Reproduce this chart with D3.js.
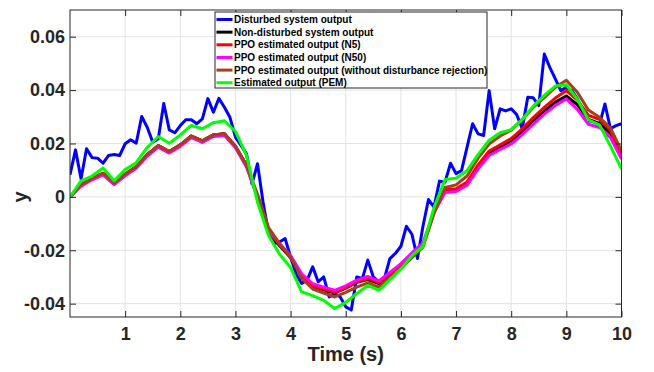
<!DOCTYPE html>
<html>
<head>
<meta charset="utf-8">
<script src="https://cdn.jsdelivr.net/npm/d3@7"></script>
<style>
  html, body { margin: 0; padding: 0; background: #fff; }
  svg { display: block; font-family: "Liberation Sans", Arial, Helvetica, sans-serif; }
</style>
</head>
<body>
<div id="chart"></div>
<script>
// time grid of the disturbed output (0.1 s)
const tBlue = [0,0.1,0.2,0.3,0.4,0.5,0.6,0.7,0.8,0.9,1,1.1,1.2,1.3,1.4,1.5,1.6,1.7,1.8,1.9,
  2,2.1,2.2,2.3,2.4,2.5,2.6,2.7,2.8,2.9,3,3.1,3.2,3.3,3.4,3.5,3.6,3.7,3.8,3.9,
  4,4.1,4.2,4.3,4.4,4.5,4.6,4.7,4.8,4.9,5,5.1,5.2,5.3,5.4,5.5,5.6,5.7,5.8,5.9,
  6,6.1,6.2,6.3,6.4,6.5,6.6,6.7,6.8,6.9,7,7.1,7.2,7.3,7.4,7.5,7.6,7.7,7.8,7.9,
  8,8.1,8.2,8.3,8.4,8.5,8.6,8.7,8.8,8.9,9,9.1,9.2,9.3,9.4,9.5,9.6,9.7,9.8,9.9,10];

const disturbed = [0.0083,0.0176,0.0068,0.018,0.0147,0.0145,0.0126,0.0155,0.0159,0.0155,
  0.0199,0.0214,0.0201,0.0301,0.0261,0.0205,0.0217,0.035,0.0251,0.024,
  0.0267,0.0289,0.0289,0.0274,0.0292,0.0368,0.0317,0.0369,0.0336,0.0298,
  0.0224,0.0193,0.0161,0.0049,0.0124,-0.0019,-0.0135,-0.0175,-0.0169,-0.0156,
  -0.0225,-0.029,-0.0324,-0.0312,-0.0262,-0.0318,-0.03,-0.0375,-0.0362,-0.0375,
  -0.0412,-0.0424,-0.03,-0.0306,-0.0237,-0.03,-0.0318,-0.0306,-0.0231,-0.0212,
  -0.0185,-0.011,-0.014,-0.0231,-0.011,-0.001,-0.0038,0.0059,0.0055,0.0126,
  0.0087,0.0099,0.0186,0.0274,0.0236,0.023,0.0398,0.0255,0.033,0.0322,
  0.033,0.0308,0.0255,0.0373,0.0371,0.0342,0.0535,0.0485,0.0442,0.0398,
  0.041,0.0398,0.0367,0.0323,0.0286,0.028,0.027,0.0348,0.0255,0.0267,0.0274];

// time grid of the estimated outputs (0.2 s)
const tSmooth = [0,0.2,0.4,0.6,0.8,1,1.2,1.4,1.6,1.8,2,2.2,2.4,2.6,2.8,3,3.2,3.4,3.6,3.8,
  4,4.2,4.4,4.6,4.8,5,5.2,5.4,5.6,5.8,6,6.2,6.4,6.6,6.8,7,7.2,7.4,7.6,7.8,
  8,8.2,8.4,8.6,8.8,9,9.2,9.4,9.6,9.8,10];

const nonDisturbed = [0,0.0045,0.007,0.0088,0.0052,0.0085,0.0113,0.0158,0.0192,0.017,
  0.0195,0.0228,0.021,0.0232,0.0236,0.019,0.0118,0,-0.013,-0.0183,
  -0.0228,-0.03,-0.0335,-0.0348,-0.036,-0.0342,-0.032,-0.031,-0.0325,-0.0292,
  -0.026,-0.0222,-0.0182,-0.0058,0.0022,0.0025,0.005,0.0115,0.0165,0.0188,
  0.021,0.0245,0.0285,0.0322,0.0355,0.0378,0.0345,0.029,0.0275,0.0238,0.0162];

const ppoN5 = [0,0.0045,0.007,0.0088,0.0052,0.0085,0.0113,0.0158,0.0192,0.017,
  0.0195,0.0228,0.021,0.0232,0.0236,0.019,0.0118,0.0003,-0.0128,-0.018,
  -0.0225,-0.0298,-0.0333,-0.0345,-0.0358,-0.034,-0.0318,-0.0305,-0.032,-0.0288,
  -0.0257,-0.0218,-0.018,-0.0055,0.0028,0.003,0.0056,0.012,0.0172,0.0195,
  0.0218,0.0255,0.0297,0.0335,0.037,0.0398,0.0362,0.0305,0.029,0.025,0.0155];

const ppoN50 = [0,0.004,0.0064,0.0082,0.0046,0.0079,0.0107,0.0152,0.0186,0.0164,
  0.0189,0.0222,0.0204,0.0226,0.023,0.0184,0.0112,-0.0002,-0.0125,-0.0175,
  -0.022,-0.0288,-0.0325,-0.0338,-0.035,-0.0333,-0.0312,-0.0298,-0.0315,-0.0283,
  -0.025,-0.021,-0.0172,-0.0058,0.0016,0.002,0.0044,0.0105,0.0155,0.0178,
  0.0198,0.0233,0.0272,0.031,0.0342,0.0367,0.0328,0.0272,0.026,0.0222,0.0142];

const ppoNoRejection = [0,0.0045,0.007,0.0088,0.0052,0.0085,0.0113,0.0158,0.0192,0.017,
  0.0195,0.0228,0.021,0.0232,0.0236,0.019,0.0118,0.001,-0.0115,-0.0175,
  -0.0225,-0.0305,-0.0345,-0.036,-0.0375,-0.0358,-0.0338,-0.0322,-0.0338,-0.0302,
  -0.0268,-0.0228,-0.0188,-0.0062,0.0035,0.0045,0.0078,0.0145,0.0198,0.0228,
  0.025,0.029,0.0335,0.0372,0.041,0.0437,0.0392,0.0325,0.0298,0.0258,0.0172];

const pem = [0,0.006,0.0078,0.0108,0.006,0.0102,0.0128,0.0185,0.0226,0.0201,
  0.0232,0.0268,0.0255,0.0278,0.0285,0.0245,0.0155,-0.002,-0.0145,-0.0215,
  -0.0265,-0.0356,-0.037,-0.0388,-0.0418,-0.0395,-0.0362,-0.0332,-0.035,-0.031,
  -0.027,-0.022,-0.0185,-0.004,0.0065,0.007,0.0098,0.0158,0.0212,0.024,
  0.0252,0.029,0.034,0.038,0.0415,0.042,0.0365,0.0288,0.027,0.019,0.0105];

const seriesNames = [
  'Disturbed system output',
  'Non-disturbed system output',
  'PPO estimated output (N5)',
  'PPO estimated output (N50)',
  'PPO estimated output (without disturbance rejection)',
  'Estimated output (PEM)'
];
const seriesColors = ['#0000ff', '#000000', '#ff0000', '#ff00ff', '#a53f1c', '#00ff00'];

const xTicks = [1, 2, 3, 4, 5, 6, 7, 8, 9, 10];
const yTicks = [-0.04, -0.02, 0, 0.02, 0.04, 0.06];
const yTickLabels = ['-0.04', '-0.02', '0', '0.02', '0.04', '0.06'];

const width = 654, height = 372;
const margin = { left: 70, right: 32.5, top: 10, bottom: 55 };
const innerW = width - margin.left - margin.right;
const innerH = height - margin.top - margin.bottom;

const svg = d3.select('#chart').append('svg')
  .attr('width', width)
  .attr('height', height);

svg.append('rect').attr('width', width).attr('height', height).attr('fill', '#fff');

const chart = svg.append('g').attr('transform', `translate(${margin.left}, ${margin.top})`);

const x = d3.scaleLinear().domain([0, 10]).range([0, innerW]);
const y = d3.scaleLinear().domain([-0.045, 0.07]).range([innerH, 0]);

// grid
chart.append('g').selectAll('line').data(xTicks).join('line')
  .attr('x1', d => x(d)).attr('x2', d => x(d))
  .attr('y1', 0).attr('y2', innerH)
  .attr('stroke', '#e3e3e3').attr('stroke-width', 1);
chart.append('g').selectAll('line').data(yTicks).join('line')
  .attr('x1', 0).attr('x2', innerW)
  .attr('y1', d => y(d)).attr('y2', d => y(d))
  .attr('stroke', '#e3e3e3').attr('stroke-width', 1);

// lines
chart.append('clipPath').attr('id', 'clip')
  .append('rect').attr('width', innerW).attr('height', innerH);

const allSeries = [
  { t: tBlue, v: disturbed },
  { t: tSmooth, v: nonDisturbed },
  { t: tSmooth, v: ppoN5 },
  { t: tSmooth, v: ppoN50 },
  { t: tSmooth, v: ppoNoRejection },
  { t: tSmooth, v: pem }
];

const line = d3.line()
  .x(d => x(d[0]))
  .y(d => y(d[1]));

const plot = chart.append('g').attr('clip-path', 'url(#clip)');
allSeries.forEach((s, i) => {
  plot.append('path')
    .datum(s.t.map((t, k) => [t, s.v[k]]))
    .attr('fill', 'none')
    .attr('stroke', seriesColors[i])
    .attr('stroke-width', 3)
    .attr('stroke-linejoin', 'round')
    .attr('d', line);
});

// axes
const axisColor = '#262626';
const xAxis = chart.append('g').attr('transform', `translate(0, ${innerH})`)
  .call(d3.axisBottom(x).tickValues(xTicks).tickSizeInner(-6).tickSizeOuter(0).tickPadding(10).tickFormat(d3.format('d')));
const yAxis = chart.append('g')
  .call(d3.axisLeft(y).tickValues(yTicks).tickSizeInner(-6).tickSizeOuter(0).tickPadding(5)
    .tickFormat((d, i) => yTickLabels[i]));
const xTop = chart.append('g')
  .call(d3.axisTop(x).tickValues(xTicks).tickSizeInner(-6).tickSizeOuter(0).tickFormat(''));
const yRight = chart.append('g').attr('transform', `translate(${innerW}, 0)`)
  .call(d3.axisRight(y).tickValues(yTicks).tickSizeInner(-6).tickSizeOuter(0).tickFormat(''));

[xAxis, yAxis, xTop, yRight].forEach(a => {
  a.select('.domain').remove();
  a.selectAll('.tick line').attr('stroke', axisColor);
  a.selectAll('.tick text')
    .attr('fill', axisColor)
    .style('font-size', '18px')
    .style('font-weight', 'bold')
    .style('font-family', '"Liberation Sans", Arial, sans-serif');
});

chart.append('rect')
  .attr('width', innerW).attr('height', innerH)
  .attr('fill', 'none').attr('stroke', axisColor).attr('stroke-width', 1);

// axis labels
svg.append('text')
  .attr('x', margin.left + innerW / 2)
  .attr('y', 361)
  .attr('text-anchor', 'middle')
  .attr('fill', axisColor)
  .style('font-size', '20px').style('font-weight', 'bold')
  .text('Time (s)');

svg.append('text')
  .attr('transform', `translate(27, ${margin.top + y(0)}) rotate(-90)`)
  .attr('text-anchor', 'middle')
  .attr('fill', axisColor)
  .style('font-size', '20px').style('font-weight', 'bold')
  .text('y');

// legend
const legend = svg.append('g').attr('transform', 'translate(215, 12)');
legend.append('rect')
  .attr('width', 272).attr('height', 76)
  .attr('fill', '#fff').attr('stroke', axisColor).attr('stroke-width', 1);

seriesNames.forEach((name, i) => {
  const ly = 7.5 + i * 12.65;
  legend.append('line')
    .attr('x1', 1.5).attr('x2', 17.5)
    .attr('y1', ly).attr('y2', ly)
    .attr('stroke', seriesColors[i]).attr('stroke-width', 3);
  legend.append('text')
    .attr('x', 19).attr('y', ly)
    .attr('dy', '0.35em')
    .attr('fill', '#000')
    .style('font-size', '10px').style('font-weight', 'bold')
    .text(name);
});
</script>
</body>
</html>
